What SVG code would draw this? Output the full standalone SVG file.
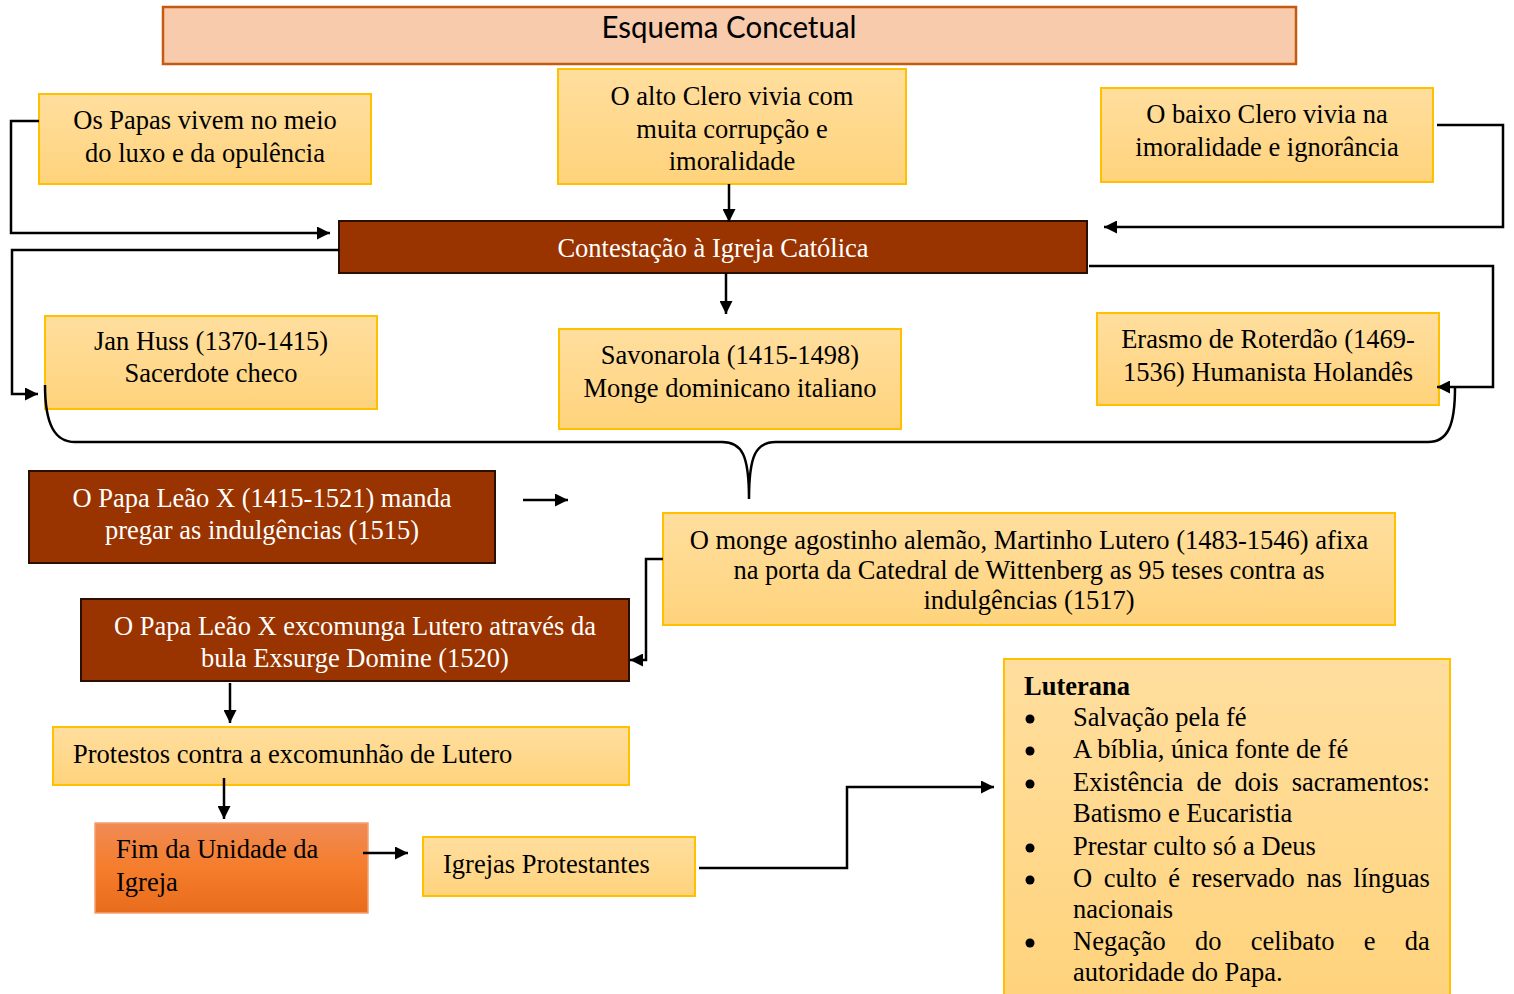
<svg xmlns="http://www.w3.org/2000/svg" width="1514" height="994" viewBox="0 0 1514 994">
<defs>
<linearGradient id="gold" x1="0" y1="0" x2="0" y2="1">
<stop offset="0" stop-color="#FFDE9E"/>
<stop offset="1" stop-color="#FFD37C"/>
</linearGradient>
<linearGradient id="orange" x1="0" y1="0" x2="0" y2="1">
<stop offset="0" stop-color="#F08B55"/>
<stop offset="0.5" stop-color="#F57D2C"/>
<stop offset="1" stop-color="#E86C1C"/>
</linearGradient>
<marker id="arr" viewBox="0 0 10 10" refX="10" refY="5" markerWidth="13" markerHeight="13" markerUnits="userSpaceOnUse" orient="auto">
<path d="M0,0 L10,5 L0,10 z" fill="#000"/>
</marker>
</defs>
<style>
.y{fill:url(#gold);stroke:#FFC000;stroke-width:2}
.b{fill:#993300;stroke:#2A0E00;stroke-width:2}
.t{font-family:"Liberation Serif","Times New Roman",serif;font-size:26.5px;fill:#000}
.w{font-family:"Liberation Serif","Times New Roman",serif;font-size:26.5px;fill:#fff}
.c{text-anchor:middle}
.ln{fill:none;stroke:#000;stroke-width:2.5}
.ar{marker-end:url(#arr)}
.bu{fill:#000}
</style>
<rect width="1514" height="994" fill="#fff"/>

<g id="title">
<rect x="163" y="7" width="1133" height="57" fill="#F7CBAC" stroke="#C55A11" stroke-width="2.5"/>
<text x="729" y="38" text-anchor="middle" font-family="Lato,'Open Sans',sans-serif" font-size="30" textLength="255" lengthAdjust="spacingAndGlyphs" fill="#000">Esquema Concetual</text>
</g>

<g id="papas">
<rect class="y" x="39" y="94" width="332" height="90"/>
<text class="t c" x="205"><tspan x="205" y="129">Os Papas vivem no meio</tspan><tspan x="205" y="162">do luxo e da opulência</tspan></text>
</g>

<g id="altoclero">
<rect class="y" x="558" y="69" width="348" height="115"/>
<text class="t c"><tspan x="732" y="105">O alto Clero vivia com</tspan><tspan x="732" y="138">muita corrupção e</tspan><tspan x="732" y="170">imoralidade</tspan></text>
</g>

<g id="baixoclero">
<rect class="y" x="1101" y="88" width="332" height="94"/>
<text class="t c"><tspan x="1267" y="123">O baixo Clero vivia na</tspan><tspan x="1267" y="156">imoralidade e ignorância</tspan></text>
</g>

<g id="contestacao">
<rect class="b" x="339" y="221" width="748" height="52"/>
<text class="w c" x="713" y="257">Contestação à Igreja Católica</text>
</g>

<g id="janhuss">
<rect class="y" x="45" y="316" width="332" height="93"/>
<text class="t c"><tspan x="211" y="350">Jan Huss (1370-1415)</tspan><tspan x="211" y="382">Sacerdote checo</tspan></text>
</g>

<g id="savonarola">
<rect class="y" x="559" y="329" width="342" height="100"/>
<text class="t c"><tspan x="730" y="364">Savonarola (1415-1498)</tspan><tspan x="730" y="397">Monge dominicano italiano</tspan></text>
</g>

<g id="erasmo">
<rect class="y" x="1097" y="313" width="342" height="92"/>
<text class="t c"><tspan x="1268" y="348">Erasmo de Roterdão (1469-</tspan><tspan x="1268" y="381">1536) Humanista Holandês</tspan></text>
</g>

<g id="leao">
<rect class="b" x="29" y="471" width="466" height="92"/>
<text class="w c"><tspan x="262" y="507">O Papa Leão X (1415-1521) manda</tspan><tspan x="262" y="539">pregar as indulgências (1515)</tspan></text>
</g>

<g id="lutero">
<rect class="y" x="663" y="513" width="732" height="112"/>
<text class="t c"><tspan x="1029" y="549">O monge agostinho alemão, Martinho Lutero (1483-1546) afixa</tspan><tspan x="1029" y="579">na porta da Catedral de Wittenberg as 95 teses contra as</tspan><tspan x="1029" y="609">indulgências (1517)</tspan></text>
</g>

<g id="excomunga">
<rect class="b" x="81" y="599" width="548" height="82"/>
<text class="w c"><tspan x="355" y="635">O Papa Leão X excomunga Lutero através da</tspan><tspan x="355" y="667">bula Exsurge Domine (1520)</tspan></text>
</g>

<g id="protestos">
<rect class="y" x="53" y="727" width="576" height="58"/>
<text class="t" x="73" y="763">Protestos contra a excomunhão de Lutero</text>
</g>

<g id="fim">
<rect x="95" y="823" width="273" height="90" fill="url(#orange)" stroke="#F4A070" stroke-width="1.5"/>
<text class="t"><tspan x="116" y="858">Fim da Unidade da</tspan><tspan x="116" y="891">Igreja</tspan></text>
</g>

<g id="igrejas">
<rect class="y" x="423" y="837" width="272" height="59"/>
<text class="t" x="443" y="873">Igrejas Protestantes</text>
</g>

<g id="luterana">
<rect class="y" x="1004" y="659" width="446" height="345"/>
<text class="t" x="1024" y="695" font-weight="bold">Luterana</text>
<circle class="bu" cx="1030" cy="719" r="4.5"/>
<circle class="bu" cx="1030" cy="751" r="4.5"/>
<circle class="bu" cx="1030" cy="784" r="4.5"/>
<circle class="bu" cx="1030" cy="848" r="4.5"/>
<circle class="bu" cx="1030" cy="880" r="4.5"/>
<circle class="bu" cx="1030" cy="943" r="4.5"/>
<text class="t" x="1073" y="726">Salvação pela fé</text>
<text class="t" x="1073" y="758">A bíblia, única fonte de fé</text>
<text class="t" x="1073" y="791" word-spacing="6.4">Existência de dois sacramentos:</text>
<text class="t" x="1073" y="822">Batismo e Eucaristia</text>
<text class="t" x="1073" y="855">Prestar culto só a Deus</text>
<text class="t" x="1073" y="887" word-spacing="5">O culto é reservado nas línguas</text>
<text class="t" x="1073" y="918">nacionais</text>
<text class="t" x="1073" y="950" word-spacing="22.6">Negação do celibato e da</text>
<text class="t" x="1073" y="981">autoridade do Papa.</text>
</g>

<g id="connectors">
<path class="ln ar" d="M39,121 H11 V233 H330"/>
<path class="ln ar" d="M729,184 V222"/>
<path class="ln ar" d="M1437,125 H1503 V227 H1104"/>
<path class="ln ar" d="M339,250 H12 V394 H38"/>
<path class="ln ar" d="M726,273 V314"/>
<path class="ln ar" d="M1089,266 H1493 V387 H1437"/>
<path class="ln" d="M45,385 C45,425 55,442 75,442 H722 C742,442 749,455 749,499 C749,455 756,442 776,442 H1428 C1448,442 1455,425 1455,388"/>
<path class="ln ar" d="M523,500 H568"/>
<path class="ln ar" d="M663,559 H646 V660 H630"/>
<path class="ln ar" d="M230,683 V723"/>
<path class="ln ar" d="M224,778 V819"/>
<path class="ln ar" d="M363,853 H408"/>
<path class="ln ar" d="M699,868 H847 V787 H994"/>
</g>
</svg>
